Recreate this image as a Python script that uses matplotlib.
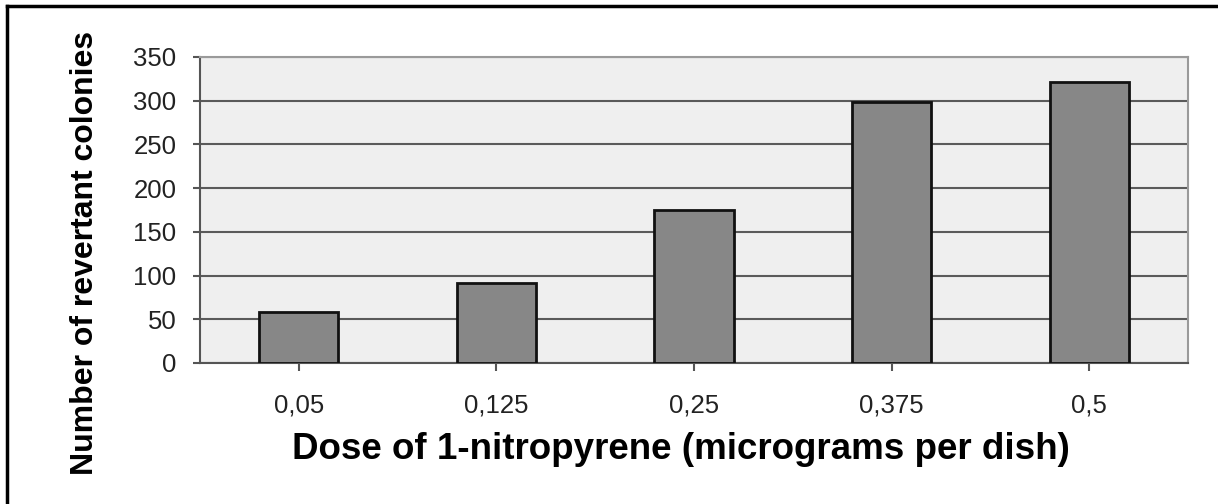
import matplotlib.pyplot as plt
from matplotlib.lines import Line2D

# data
doses = ["0,05", "0,125", "0,25", "0,375", "0,5"]
colonies = [58, 92, 175, 298, 321]
y_ticks = [0, 50, 100, 150, 200, 250, 300, 350]

plt.rcParams['font.family'] = ['Liberation Sans', 'DejaVu Sans']

fig = plt.figure(figsize=(12.18, 5.04), dpi=100)
ax = fig.add_axes([200 / 1218, 1 - 363 / 504, 988 / 1218, 306 / 504])
ax.set_facecolor('#efefef')

x = range(len(doses))
ax.bar(x, colonies, width=0.4, color='#878787', edgecolor='#111111', linewidth=2, zorder=3)

ax.set_xlim(-0.5, len(doses) - 0.5)
ax.set_ylim(0, 350)
ax.set_yticks(y_ticks)
ax.set_xticks(list(x))
ax.set_xticklabels(doses)
ax.yaxis.grid(True, color='#5a5a5a', linewidth=1.5, zorder=1)

for s in ['top', 'right']:
    ax.spines[s].set_color('#9a9a9a')
    ax.spines[s].set_linewidth(1.5)
for s in ['left', 'bottom']:
    ax.spines[s].set_color('#555555')
    ax.spines[s].set_linewidth(1.5)

ax.tick_params(axis='y', direction='out', length=5, width=1.5, color='#555555',
               labelsize=18.5, labelcolor='#222222', pad=12)
ax.tick_params(axis='x', direction='out', length=6, width=1.5, color='#555555',
               labelsize=18.5, labelcolor='#222222', pad=16)

ax.set_ylabel("Number of revertant colonies", fontsize=23, fontweight='bold')
ax.yaxis.set_label_coords(-0.101, 0.36)
ax.set_xlabel("Dose of 1-nitropyrene (micrograms per dish)", fontsize=26.5, fontweight='bold')
ax.xaxis.set_label_coords(0.487, -0.225)

# outer frame (top and left edges visible)
fig.add_artist(Line2D([7 / 1218, 1.0], [1 - 6 / 504, 1 - 6 / 504], color='black', linewidth=2.5,
                      transform=fig.transFigure))
fig.add_artist(Line2D([7 / 1218, 7 / 1218], [0, 1 - 6 / 504], color='black', linewidth=2.5,
                      transform=fig.transFigure))

fig.savefig("out.png", dpi=100)
